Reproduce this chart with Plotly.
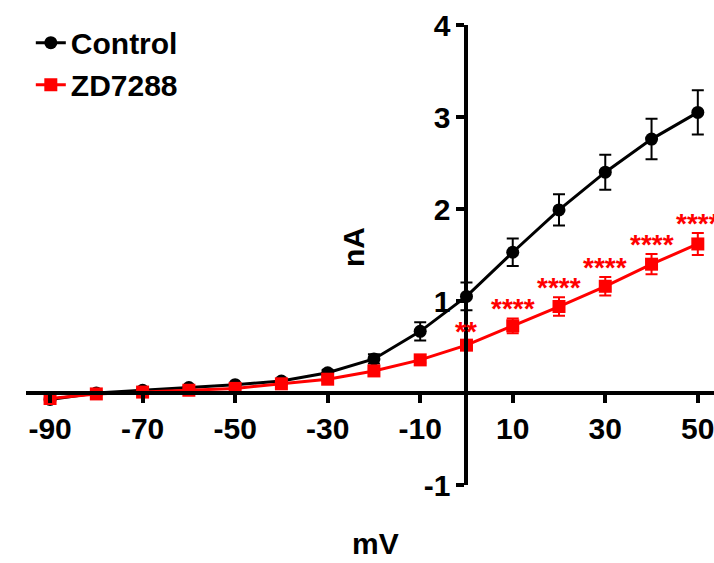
import plotly.graph_objects as go

# Membrane potential steps (mV)
voltage = [-90, -80, -70, -60, -50, -40, -30, -20, -10, 0, 10, 20, 30, 40, 50]

# Mean current (nA) and SEM for each condition
control_mean = [-0.07, 0.0, 0.03, 0.06, 0.09, 0.13, 0.22, 0.37, 0.67, 1.05, 1.53, 1.99, 2.40, 2.76, 3.05]
control_sem = [0.01, 0.01, 0.01, 0.01, 0.01, 0.02, 0.03, 0.05, 0.10, 0.15, 0.15, 0.17, 0.19, 0.22, 0.24]
zd_mean = [-0.06, -0.01, 0.01, 0.03, 0.05, 0.10, 0.15, 0.24, 0.36, 0.52, 0.73, 0.94, 1.16, 1.40, 1.62]
zd_sem = [0.01, 0.01, 0.01, 0.01, 0.01, 0.01, 0.02, 0.02, 0.03, 0.04, 0.08, 0.10, 0.10, 0.11, 0.12]

# Significance marks (ZD7288 vs Control), keyed by voltage
sig_voltage = [0, 10, 20, 30, 40, 50]
sig_label = ["**", "****", "****", "****", "****", "****"]

x_range = [-95.2, 53.5]
y_range = [-1, 4]
x_ticks = [-90, -70, -50, -30, -10, 10, 30, 50]
y_ticks = [-1, 1, 2, 3, 4]

FONT = "Arial, Liberation Sans, sans-serif"

fig = go.Figure()

fig.add_trace(go.Scatter(
    x=voltage, y=control_mean, name="Control", mode="lines+markers",
    line=dict(color="black", width=3),
    marker=dict(symbol="circle", size=13, color="black"),
    error_y=dict(type="data", array=control_sem, color="black", thickness=2, width=6),
    cliponaxis=False,
))
fig.add_trace(go.Scatter(
    x=voltage, y=zd_mean, name="ZD7288", mode="lines+markers",
    line=dict(color="#ff0000", width=3),
    marker=dict(symbol="square", size=13, color="#ff0000"),
    error_y=dict(type="data", array=zd_sem, color="#ff0000", thickness=2, width=6),
    cliponaxis=False,
))

# Asterisks above each ZD7288 error bar
for v, lab in zip(sig_voltage, sig_label):
    i = voltage.index(v)
    fig.add_annotation(
        x=v, y=zd_mean[i] + zd_sem[i], xref="x", yref="y",
        text=lab, showarrow=False, yanchor="bottom", yshift=-8,
        font=dict(family=FONT, size=28, color="#ff0000"),
    )

# Axis titles (paper coordinates; plot area spans 688 x 460 px)
fig.add_annotation(x=(353 - 26) / 688, y=(485 - 247) / 460, xref="paper", yref="paper",
                   xanchor="center", yanchor="middle",
                   text="nA", textangle=-90, showarrow=False,
                   font=dict(family=FONT, size=30, color="black", weight="bold"))
fig.add_annotation(x=(375 - 26) / 688, y=(485 - 543) / 460, xref="paper", yref="paper",
                   xanchor="center", yanchor="middle",
                   text="mV", showarrow=False,
                   font=dict(family=FONT, size=30, color="black", weight="bold"))

x_cross = (0 - x_range[0]) / (x_range[1] - x_range[0])
y_cross = (0 - y_range[0]) / (y_range[1] - y_range[0])

fig.update_layout(
    width=714, height=563,
    margin=dict(l=26, r=0, t=25, b=78),
    paper_bgcolor="white", plot_bgcolor="white",
    font=dict(family=FONT, size=30, color="black", weight="bold"),
    showlegend=True,
    legend=dict(x=0.007, y=1.018, xanchor="left", yanchor="top",
                bgcolor="rgba(0,0,0,0)", font=dict(size=30, weight="bold"),
                tracegroupgap=0, itemwidth=30),
    xaxis=dict(
        range=x_range, tickvals=x_ticks, ticktext=[str(t) for t in x_ticks],
        showgrid=False, zeroline=False, showline=True, linecolor="black", linewidth=4,
        ticks="outside", ticklen=8, tickwidth=4, tickcolor="black",
        anchor="free", position=y_cross, ticklabeloverflow="allow",
        tickfont=dict(family=FONT, size=30, weight="bold"),
    ),
    yaxis=dict(
        range=y_range, tickvals=y_ticks, ticktext=[str(t) for t in y_ticks],
        showgrid=False, zeroline=False, showline=True, linecolor="black", linewidth=4,
        ticks="outside", ticklen=8, tickwidth=4, tickcolor="black",
        anchor="free", position=x_cross,
        tickfont=dict(family=FONT, size=30, weight="bold"),
    ),
)

fig.write_html("out.html")
